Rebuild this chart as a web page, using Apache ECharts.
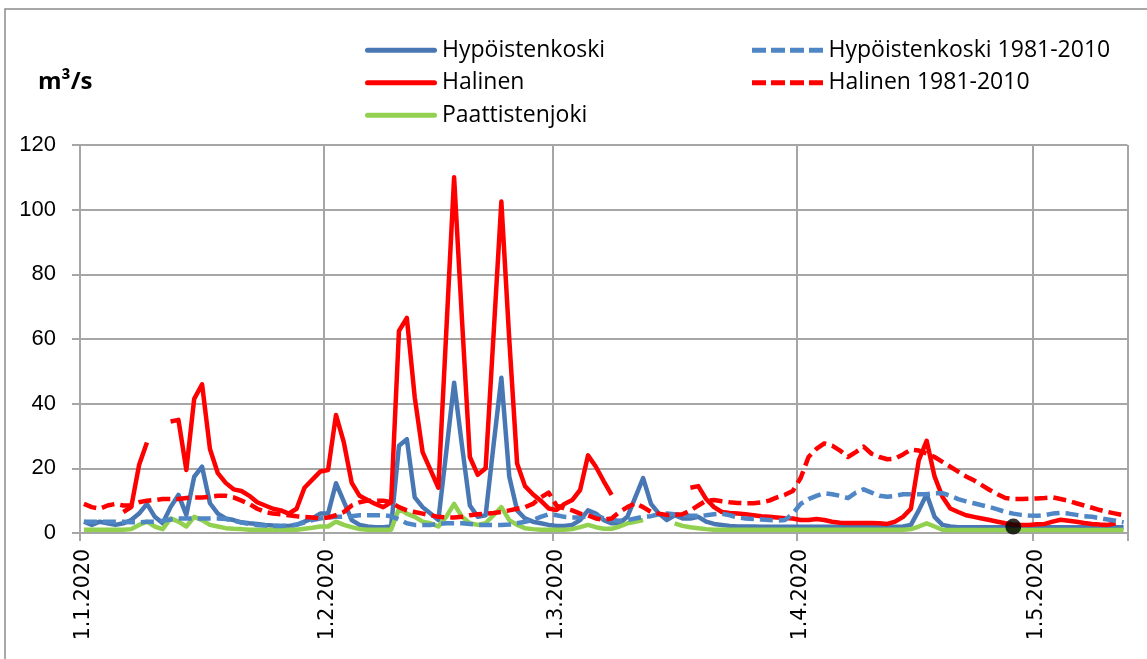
<!DOCTYPE html>
<html>
<head>
<meta charset="utf-8">
<script src="https://cdn.jsdelivr.net/npm/echarts@6/dist/echarts.min.js"></script>
<style>
html,body{margin:0;padding:0;background:#fff;}
#chart{width:1147px;height:659px;}
</style>
</head>
<body>
<div id="chart"></div>
<script>
// ---- data ----
const startYear = 2020, nDays = 133; // 1.1.2020 .. 13.5.2020
const monthTicks = ['1.1.2020','1.2.2020','1.3.2020','1.4.2020','1.5.2020'];
const yTicks = [0,20,40,60,80,100,120];
const seriesNames = ['Hypöistenkoski','Halinen','Paattistenjoki','Hypöistenkoski 1981-2010','Halinen 1981-2010'];

const hypoistenkoski = [
3.5,2.5,3.5,3,2.5,3,4,6,9,5,
3,8,11.8,5.6,17.4,20.5,9.2,6,4.5,4,
3.3,3,2.8,2.5,2.3,2.2,2.2,2.5,3.5,4.5,
6,6,15.4,9.7,4,2.5,2,1.8,1.8,2,
27,29,11,8,6,4,25,46.5,27,8.5,
5,5.5,27,48,17.5,7,4.5,3.5,3,2.5,
2.2,2.2,2.5,4,7,6,4,3,3,5,
11,17,9,6,4,5.5,4.5,4.5,5,3.5,
2.8,2.5,2.2,2,2,2,1.9,1.9,1.9,1.9,
1.9,1.9,1.9,1.9,1.9,1.9,1.9,1.9,1.9,1.9,
1.9,1.9,1.9,1.9,2,2.5,7,12,5,2.5,
2,1.8,1.8,1.8,1.8,1.8,1.8,1.8,1.8,1.8,
1.8,1.8,1.8,1.8,1.8,1.8,1.8,1.8,1.8,1.8,
1.8,1.8,1.8
];
const halinen = [
null,null,null,null,null,6.5,8,21,28,null,
null,34.5,35,19.5,41.5,46,26,18.5,15.5,13.5,
13,11.5,9.5,8.5,7.5,7,6,7.5,14,16.5,
19,19.5,36.5,28,15.5,11.5,10.2,9,8,9.5,
62.5,66.5,42,25,19.5,14,62,110,66,23.5,
18,20,61,102.5,60,21.5,14.5,12,10,7.6,
7.1,9,10.2,13.3,24,20.5,16,11.8,null,null,
null,null,null,null,null,null,null,14,14.5,10.5,
8,6.5,6.2,6,5.8,5.5,5.2,5,4.8,4.6,
4.5,4,4,4.3,4,3.5,3.2,3.1,3.1,3.1,
3.1,3,2.8,3.5,5,7.5,22.5,28.5,17.5,11.2,
7.6,6.5,5.5,5,4.5,4,3.5,3,2.6,2.5,
2.5,2.7,2.8,3.5,4.1,3.8,3.5,3.1,2.8,2.6,
2.5,3,null
];
const paattistenjoki = [
1,1,1,1,1,1,1.2,2.5,3.5,2,
1.2,4.5,3.5,2,5,4,2.5,2,1.5,1.3,
1.2,1,1,1,1,1,1,1,1.3,1.6,
2,2,3.5,2.5,1.8,1.2,1,1,1,1,
7.5,6,5,3.5,3,2,5,9,5,3,
2.5,3,5.5,8,4,2.5,1.5,1.2,1,1,
1,1,1.2,1.8,2.5,1.8,1.3,1.3,2,3,
3.5,4,null,null,null,3,2.2,1.8,1.5,1.2,
1,1,1,1,1,1,1,1,1,1,
1,1,1,1,1,1,1,1,1,1,
1,1,1,1,1,1.2,2,3,2,1,
0.9,0.9,0.9,0.9,0.9,0.9,0.9,0.9,0.9,0.9,
0.9,0.9,0.9,0.9,0.9,0.9,0.9,0.9,0.9,0.9,
0.9,0.9,0.9
];
const hypoistenkoski1981 = [
3.5,3.5,3.5,3.5,3.5,3.5,3.3,3.3,3.5,3.5,
3.8,4.2,4.5,4.5,4.5,4.5,4.5,4.5,4.3,3.8,
3.2,2.8,2.5,2.3,2.2,2.2,2.3,2.6,3.2,4,
4.5,4.8,5,5,5.2,5.5,5.5,5.5,5.5,5.2,
4.2,3,2.5,2.5,2.5,2.8,3,3,3,2.8,
2.5,2.5,2.5,2.5,2.6,3,3.5,4,5,5.8,
5.5,5,4.8,4.8,5.2,5.5,4.5,4,3.8,4,
4.5,5,5.2,5.8,6,5.8,5.5,5.3,5.3,5.5,
5.8,6,5.5,4.8,4.5,4.3,4.2,4,3.8,4,
6,9,10.5,11.5,12.3,12,11.5,10.8,12.5,13.5,
12.5,11.5,11.2,11.5,12,12,12,12,12.3,12.3,
11.5,10.5,9.8,9.2,8.6,8,7.3,6.5,6,5.6,
5.4,5.3,5.5,6,6.2,6,5.6,5.2,5,4.6,
4.2,3.8,3.3
];
const halinen1981 = [
9,8,7.5,8.5,9,8.5,8.5,9.5,10,10.2,
10.5,10.5,10.5,10.8,11,11,11.2,11.5,11.5,11,
10,9,7.5,6.5,6,5.8,5.5,5.2,5,4.8,
4.5,4.8,5.5,6.5,8.5,9.5,10,10,10,9.5,
8,7,6.5,6,5.5,5,4.8,4.8,5,5.5,
5.8,6,6.2,6.5,7,7.5,8,9,11,12.5,
8.5,7.6,7,6,5.5,4.5,4.1,4.5,6.5,8,
9.2,8,6.5,6,5.6,5.6,5.8,7,8.5,10,
10.2,9.8,9.5,9.3,9.2,9.2,9.5,10,11,11.8,
13,17,23.5,26,27.7,27,25.5,23.5,25,26.7,
24.5,23.5,22.8,23,24.3,25.8,25.5,24.6,23.5,22,
20.5,19,17.5,16.3,14.8,13.3,12,10.8,10.5,10.5,
10.6,10.7,10.8,11,10.5,10,9.2,8.5,7.8,7.1,
6.5,6,5.5
];
const markerDate = ['28.4.2020'];
const markerValue = [2];

// ---- categories (one per day) ----
const categories = [];
for (let i = 0; i < nDays; i++) {
  const dt = new Date(Date.UTC(startYear, 0, 1 + i));
  categories.push(dt.getUTCDate() + '.' + (dt.getUTCMonth() + 1) + '.' + dt.getUTCFullYear());
}
const isMonthTick = (idx, val) => monthTicks.indexOf(categories[idx]) >= 0;

const BLUE = '#4877B4', BLUE_D = '#4F86C6', RED = '#FF0000', GREEN = '#92D050';
const GRID = '#A6A6A6';
const FONT = 'Liberation Sans';
const LEGEND_FONT = 'Open Sans';
const SOLID_ICON = 'path://M2.5,0H69.5A2.5,2.5,0,0,1,69.5,5H2.5A2.5,2.5,0,0,1,2.5,0Z';
const DASH_ICON = 'path://M0,0H14V5H0Z M19,0H33V5H19Z M38,0H52V5H38Z M57,0H71V5H57Z';

const chart = echarts.init(document.getElementById('chart'), null, {renderer: 'canvas'});
const lineSeries = (name, data, color, dashed, z) => ({
  name, type: 'line', data, symbol: 'none', connectNulls: false, z,
  lineStyle: {color, width: 4.5, type: dashed ? [13, 6] : 'solid', cap: 'butt', join: 'round'},
  itemStyle: {color}
});
const legendText = {fontSize: 23, color: '#000', fontFamily: LEGEND_FONT, lineHeight: 32.5};

chart.setOption({
  animation: false,
  backgroundColor: '#fff',
  textStyle: {fontFamily: FONT},
  grid: {left: 80, right: 19.5, top: 145, bottom: 126, containLabel: false},
  graphic: [
    {type: 'rect', shape: {x: 5, y: 9, width: 1160, height: 700},
     style: {fill: 'none', stroke: '#8c8c8c', lineWidth: 1.5}, silent: true},
    {type: 'text', left: 38, top: 70,
     style: {text: 'm³/s', font: 'bold 24px "Open Sans"', fill: '#000'}}
  ],
  legend: [
    {data: [
       {name: seriesNames[0], icon: SOLID_ICON},
       {name: seriesNames[1], icon: SOLID_ICON},
       {name: seriesNames[2], icon: SOLID_ICON}],
     orient: 'vertical', left: 360, top: 29, itemWidth: 72, itemHeight: 5, itemGap: 0,
     textStyle: legendText},
    {data: [
       {name: seriesNames[3], icon: DASH_ICON},
       {name: seriesNames[4], icon: DASH_ICON}],
     orient: 'vertical', left: 747, top: 29, itemWidth: 72, itemHeight: 5, itemGap: 0,
     textStyle: legendText}
  ],
  xAxis: {
    type: 'category', data: categories, boundaryGap: true,
    axisLine: {lineStyle: {color: GRID, width: 2}},
    axisTick: {show: true, interval: isMonthTick, length: 8, lineStyle: {color: GRID, width: 2}},
    splitLine: {show: true, interval: isMonthTick, lineStyle: {color: GRID, width: 2}},
    axisLabel: {interval: isMonthTick, rotate: 90, margin: 16, fontSize: 20.5,
      fontFamily: 'DejaVu Sans', color: '#000'}
  },
  yAxis: {
    type: 'value', min: yTicks[0], max: yTicks[yTicks.length - 1], interval: 20,
    axisLine: {show: true, lineStyle: {color: GRID, width: 2}},
    axisTick: {show: true, length: 8, lineStyle: {color: GRID, width: 2}},
    splitLine: {show: true, lineStyle: {color: GRID, width: 2}},
    axisLabel: {fontSize: 22, color: '#000', margin: 24, fontFamily: FONT}
  },
  series: [
    lineSeries(seriesNames[0], hypoistenkoski, BLUE, false, 2),
    lineSeries(seriesNames[1], halinen, RED, false, 3),
    lineSeries(seriesNames[2], paattistenjoki, GREEN, false, 4),
    lineSeries(seriesNames[3], hypoistenkoski1981, BLUE_D, true, 5),
    lineSeries(seriesNames[4], halinen1981, RED, true, 6),
    {name: 'marker', type: 'scatter', z: 10, symbol: 'circle', symbolSize: 16,
     itemStyle: {color: '#000'},
     data: markerDate.map((d, i) => [d, markerValue[i]])}
  ]
});
</script>
</body>
</html>
